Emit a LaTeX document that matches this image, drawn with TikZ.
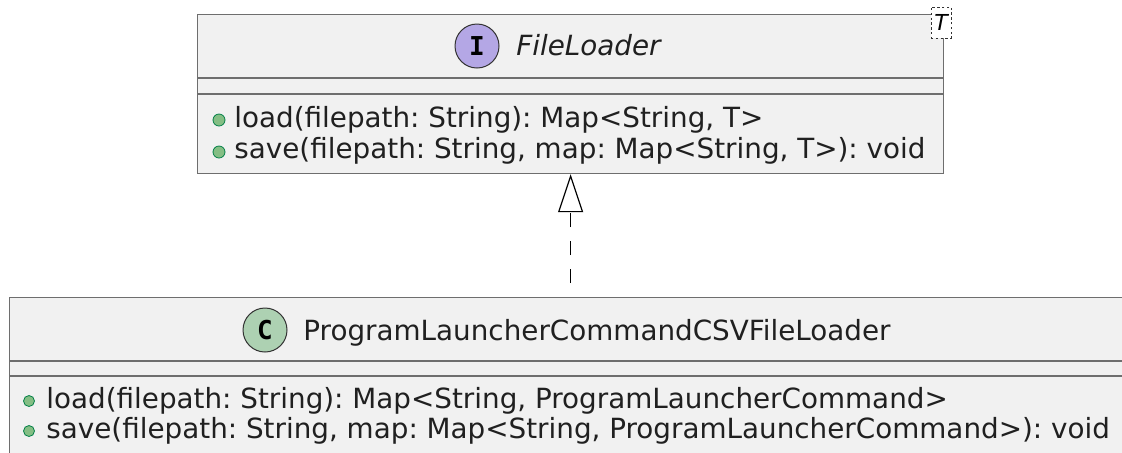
\documentclass[tikz,border=0pt]{standalone}
\usepackage{fontspec}
\setmainfont{DejaVu Sans}
\newfontfamily\iconfont{DejaVu Sans Mono}
\usetikzlibrary{arrows.meta}
\frenchspacing

\definecolor{boxfill}{HTML}{F1F1F1}
\definecolor{boxline}{HTML}{6E6E6E}
\definecolor{ifacefill}{HTML}{B4A7E5}
\definecolor{classfill}{HTML}{ADD1B2}
\definecolor{dotfill}{HTML}{84BE84}
\definecolor{dotline}{HTML}{038048}
\definecolor{membertext}{HTML}{202020}

\tikzset{
  umlbox/.style={draw=boxline, fill=boxfill, line width=0.6pt, rectangle, inner sep=0pt, anchor=north west},
  sepline/.style={draw=boxline, line width=0.6pt},
  icon/.style={circle, draw=black!80, line width=0.5pt, minimum size=22pt, inner sep=0pt,
    font=\iconfont\bfseries\fontsize{13}{13}\selectfont},
  member/.style={anchor=base west, inner sep=0pt, text=membertext, font=\fontsize{13.9}{16}\selectfont},
  pubdot/.style={fill=dotfill, draw=dotline, line width=0.4pt},
  realize/.style={-{Triangle[open, length=19pt, width=12.5pt]}, line width=0.6pt,
    dash pattern=on 7pt off 7pt, dash phase=7pt}
}

\begin{document}
\begin{tikzpicture}[x=0.5pt, y=-0.5pt]

\useasboundingbox (0,0) rectangle (1122,452);
\clip (0,0) rectangle (1122,452);
\fill[white] (0,0) rectangle (1122,452);

% interface
\node[umlbox, minimum width=373pt, minimum height=79.5pt] (loader) at (197,14) {};
\draw[sepline] (197,78) -- (943,78) (197,94) -- (943,94);
\node[icon, fill=ifacefill] (loaderIcon) at (477,46) {I};
\node[member, font=\fontsize{13.9}{16}\selectfont\itshape] (loaderTitle) at (516,55) {FileLoader};
\node[draw=black!80, fill=white, dash pattern=on 1.2pt off 1.2pt, line width=0.5pt,
  minimum width=10pt, minimum height=15.5pt, inner sep=0pt,
  font=\fontsize{11}{11}\selectfont\itshape] (loaderParam) at (941,22.5) {T};
\fill[pubdot] (219,120) circle (6);
\node[member] (loaderLoad) at (234,127) {load(filepath: String): Map<String, T>};
\fill[pubdot] (219,152) circle (6);
\node[member] (loaderSave) at (234,158) {save(filepath: String, map: Map<String, T>): void};

% implementation
\node[umlbox, minimum width=600pt, minimum height=100pt] (csvLoader) at (9,297) {};
\draw[sepline] (9,361) -- (1140,361) (9,376) -- (1140,376);
\node[icon, fill=classfill] (csvIcon) at (265,330) {C};
\node[member] (csvTitle) at (303,340) {ProgramLauncherCommandCSVFileLoader};
\fill[pubdot] (29,401) circle (5.5);
\node[member] (csvLoad) at (46,408) {load(filepath: String): Map<String, ProgramLauncherCommand>};
\fill[pubdot] (29,431) circle (5.5);
\node[member] (csvSave) at (46,438) {save(filepath: String, map: Map<String, ProgramLauncherCommand>): void};

\draw[realize] (csvLoader.north -| loader.south) -- (loader.south);

\end{tikzpicture}
\end{document}
